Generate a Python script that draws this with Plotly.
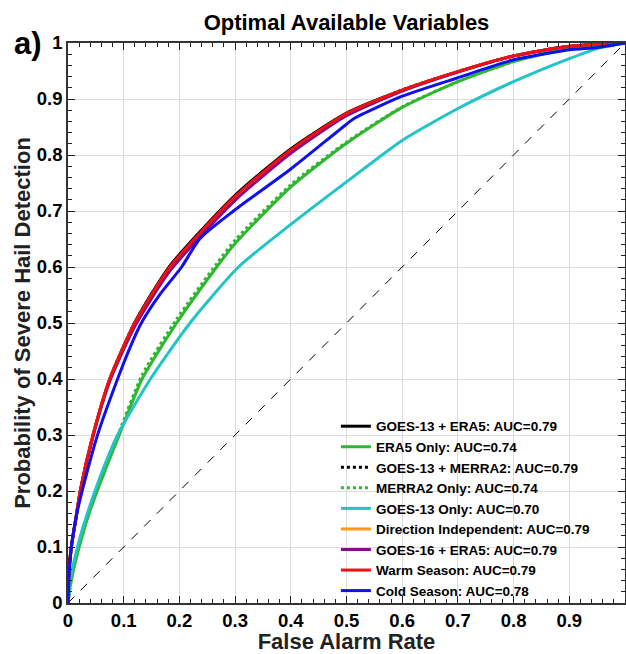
import plotly.graph_objects as go

# ---------------- data ----------------
diag_x = [0, 1]
diag_y = [0, 1]

fpr_main = [0, 0.002, 0.006, 0.014, 0.022, 0.045, 0.075, 0.12, 0.183, 0.3, 0.4, 0.5, 0.6, 0.7,
            0.8, 0.9, 1.0]
pod_goes13_era5 = [0, 0.06, 0.1, 0.15, 0.2, 0.3, 0.4, 0.501, 0.602, 0.728, 0.811, 0.875, 0.916,
                   0.949, 0.977, 0.994, 1.0]
pod_goes13_merra2 = [0, 0.06, 0.1, 0.15, 0.2, 0.3, 0.4, 0.501, 0.601, 0.727, 0.810, 0.874, 0.916,
                     0.949, 0.977, 0.994, 1.0]
pod_dir_indep = [0, 0.06, 0.1, 0.15, 0.2, 0.3, 0.399, 0.499, 0.598, 0.724, 0.807, 0.873, 0.915,
                 0.949, 0.977, 0.994, 1.0]
pod_goes16_era5 = [0, 0.06, 0.1, 0.15, 0.2, 0.298, 0.396, 0.494, 0.593, 0.719, 0.803, 0.870, 0.914,
                   0.948, 0.977, 0.994, 1.0]
pod_warm = [0, 0.06, 0.1, 0.15, 0.2, 0.3, 0.4, 0.5, 0.6, 0.726, 0.809, 0.874, 0.916,
            0.949, 0.977, 0.994, 1.0]

fpr_cold = [0, 0.002, 0.006, 0.016, 0.028, 0.053, 0.089, 0.11, 0.13, 0.165, 0.204, 0.237, 0.297,
            0.4, 0.5, 0.515, 0.6, 0.7, 0.8, 0.9, 0.95, 1.0]
pod_cold = [0, 0.05, 0.1, 0.16, 0.21, 0.3, 0.4, 0.453, 0.497, 0.551, 0.6, 0.651, 0.7,
            0.775, 0.855, 0.866, 0.905, 0.938, 0.97, 0.988, 0.992, 1.0]

fpr_era5 = [0, 0.004, 0.01, 0.02, 0.038, 0.058, 0.092, 0.133, 0.195, 0.267, 0.3, 0.4, 0.5, 0.6,
            0.7, 0.8, 0.9, 1.0]
pod_era5 = [0, 0.03, 0.06, 0.1, 0.16, 0.215, 0.3, 0.4, 0.5, 0.6, 0.642, 0.743, 0.821, 0.885,
            0.931, 0.967, 0.99, 1.0]
pod_merra2 = [0, 0.03, 0.062, 0.103, 0.164, 0.22, 0.306, 0.407, 0.507, 0.606, 0.648, 0.747, 0.823,
              0.886, 0.931, 0.967, 0.99, 1.0]

fpr_goes13 = [0, 0.004, 0.017, 0.03, 0.052, 0.089, 0.148, 0.219, 0.306, 0.4, 0.5, 0.6, 0.7, 0.8,
              0.9, 0.95, 1.0]
pod_goes13 = [0, 0.04, 0.1, 0.145, 0.21, 0.3, 0.4, 0.5, 0.6, 0.676, 0.752, 0.826, 0.883, 0.931,
              0.972, 0.99, 1.0]

series_names = ["GOES-13 + ERA5: AUC=0.79", "ERA5 Only: AUC=0.74", "GOES-13 + MERRA2: AUC=0.79",
                "MERRA2 Only: AUC=0.74", "GOES-13 Only: AUC=0.70", "Direction Independent: AUC=0.79",
                "GOES-16 + ERA5: AUC=0.79", "Warm Season: AUC=0.79", "Cold Season: AUC=0.78"]
series_x = [fpr_main, fpr_era5, fpr_main, fpr_era5, fpr_goes13, fpr_main, fpr_main, fpr_main, fpr_cold]
series_y = [pod_goes13_era5, pod_era5, pod_goes13_merra2, pod_merra2, pod_goes13, pod_dir_indep,
            pod_goes16_era5, pod_warm, pod_cold]
series_colors = ["#000000", "#2fb82f", "#000000", "#2fb82f", "#22c4c8", "#ff9a10",
                 "#8a0a8a", "#ee1111", "#1010ee"]
series_dash = ["solid", "solid", "dot", "dot", "solid", "solid", "solid", "solid", "solid"]

tick_vals = [0, 0.1, 0.2, 0.3, 0.4, 0.5, 0.6, 0.7, 0.8, 0.9, 1]
tick_text = ["0", "0.1", "0.2", "0.3", "0.4", "0.5", "0.6", "0.7", "0.8", "0.9", "1"]

FONT = "Liberation Sans, Arial, Helvetica, sans-serif"

# ---------------- figure ----------------
fig = go.Figure()
fig.add_trace(go.Scatter(x=diag_x, y=diag_y, mode="lines", showlegend=False, hoverinfo="skip",
                         line=dict(color="black", width=1, dash="dash")))
for name, xs, ys, col, dsh in zip(series_names, series_x, series_y, series_colors, series_dash):
    fig.add_trace(go.Scatter(x=xs, y=ys, mode="lines", name=name,
                             line=dict(color=col, width=3, dash=dsh, shape="spline", smoothing=0.6)))

axis_common = dict(
    range=[0, 1], tickvals=tick_vals, ticktext=tick_text,
    ticks="inside", ticklen=7, tickwidth=1, tickcolor="#222",
    showline=True, linecolor="#333", linewidth=1.5, mirror="ticks",
    showgrid=True, gridcolor="#dcdcdc", gridwidth=1, zeroline=False,
    minor=dict(dtick=0.02, ticks="inside", ticklen=4, tickcolor="#222", showgrid=False),
    tickfont=dict(family=FONT, size=18.5, color="black", weight="bold"),
    ticklabelstandoff=0,
)

fig.update_layout(
    width=626, height=654,
    margin=dict(l=68, r=1, t=43, b=51, autoexpand=False),
    paper_bgcolor="white", plot_bgcolor="white",
    font=dict(family=FONT, color="black"),
    title=dict(text="<b>Optimal Available Variables</b>", x=0.5, xref="paper", xanchor="center",
               y=1 - 22 / 654, yref="container", yanchor="middle",
               font=dict(family=FONT, size=22, color="black")),
    xaxis=dict(axis_common, title=dict(text="<b>False Alarm Rate</b>", standoff=0,
                                       font=dict(family=FONT, size=22, color="#222"))),
    yaxis=dict(axis_common, title=dict(text="<b>Probability of Severe Hail Detection</b>", standoff=0,
                                       font=dict(family=FONT, size=22, color="#222"))),
    legend=dict(x=0.481, xanchor="left", y=0.343, yanchor="top",
                bgcolor="rgba(0,0,0,0)", borderwidth=0, itemwidth=30,
                font=dict(family=FONT, size=13.5, color="black", weight="bold"),
                tracegroupgap=0),
    annotations=[dict(text="<b>a)</b>", x=-0.072, y=1.0, xref="paper", yref="paper",
                      xanchor="center", yanchor="middle", showarrow=False,
                      font=dict(family=FONT, size=31, color="black"))],
)

fig.write_html("out.html", config={"displayModeBar": False},
               post_script="document.body.style.margin='0';document.body.style.padding='0';")
